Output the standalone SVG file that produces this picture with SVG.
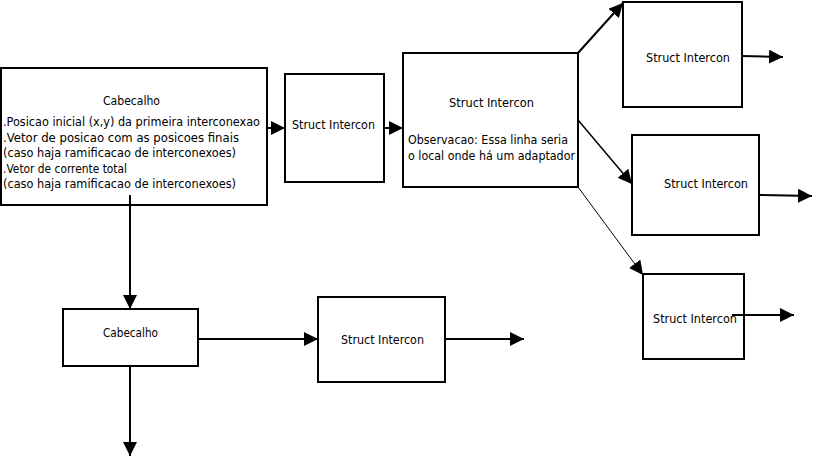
<svg xmlns="http://www.w3.org/2000/svg" width="814" height="460" viewBox="0 0 814 460">
<style>
rect.n{fill:#fff;stroke:#000;stroke-width:2}
text{font-family:"DejaVu Sans","Liberation Sans",sans-serif;font-size:12px;fill:#000}
.c line{stroke:#000;stroke-width:2}
</style>
<defs>
<marker id="ah" markerUnits="userSpaceOnUse" markerWidth="14" markerHeight="14" viewBox="0 0 12 12" refX="12" refY="6" orient="auto">
<path d="M0,0 L12,6 L0,12 Z" fill="#000"/>
</marker>
</defs>
<rect width="814" height="460" fill="#fff"/>
<g id="cabecalho1">
<rect class="n" x="1" y="68" width="266" height="137"/>
<text x="103" y="105" textLength="57" lengthAdjust="spacingAndGlyphs">Cabecalho</text>
<text x="3" y="126" textLength="257" lengthAdjust="spacingAndGlyphs">.Posicao inicial (x,y) da primeira interconexao</text>
<text x="3" y="142" textLength="236" lengthAdjust="spacingAndGlyphs">.Vetor de posicao com as posicoes finais</text>
<text x="3" y="157" textLength="233" lengthAdjust="spacingAndGlyphs">(caso haja ramificacao de interconexoes)</text>
<text x="3" y="173" textLength="124" lengthAdjust="spacingAndGlyphs">.Vetor de corrente total</text>
<text x="3" y="188" textLength="233" lengthAdjust="spacingAndGlyphs">(caso haja ramificacao de interconexoes)</text>
</g>
<g id="struct1">
<rect class="n" x="285" y="74" width="99" height="108"/>
<text x="292" y="129" textLength="83" lengthAdjust="spacingAndGlyphs">Struct Intercon</text>
</g>
<g id="struct2">
<rect class="n" x="403" y="53" width="175" height="134"/>
<text x="449" y="107" textLength="85" lengthAdjust="spacingAndGlyphs">Struct Intercon</text>
<text x="408" y="144" textLength="160" lengthAdjust="spacingAndGlyphs">Observacao: Essa linha seria</text>
<text x="408" y="160" textLength="167" lengthAdjust="spacingAndGlyphs">o local onde há um adaptador</text>
</g>
<g id="struct3">
<rect class="n" x="623" y="2" width="119" height="105"/>
<text x="646" y="62" textLength="84" lengthAdjust="spacingAndGlyphs">Struct Intercon</text>
</g>
<g id="struct4">
<rect class="n" x="632" y="135" width="127" height="100"/>
<text x="664" y="188" textLength="84" lengthAdjust="spacingAndGlyphs">Struct Intercon</text>
</g>
<g id="struct5">
<rect class="n" x="643" y="274" width="101" height="85"/>
<text x="653" y="323" textLength="84" lengthAdjust="spacingAndGlyphs">Struct Intercon</text>
</g>
<g id="cabecalho2">
<rect class="n" x="63" y="309" width="135" height="57"/>
<text x="103" y="337" textLength="55" lengthAdjust="spacingAndGlyphs">Cabecalho</text>
</g>
<g id="struct6">
<rect class="n" x="318" y="297" width="127" height="85"/>
<text x="341" y="344" textLength="83" lengthAdjust="spacingAndGlyphs">Struct Intercon</text>
</g>
<g class="c" id="connectors">
<line x1="267" y1="128" x2="285" y2="128" marker-end="url(#ah)"/>
<line x1="384" y1="128" x2="403" y2="128" marker-end="url(#ah)"/>
<line x1="578" y1="53" x2="623" y2="3" marker-end="url(#ah)"/>
<line x1="578" y1="120" x2="632" y2="184" marker-end="url(#ah)" style="stroke-width:1.5"/>
<line x1="578" y1="187" x2="643" y2="275" marker-end="url(#ah)" style="stroke-width:1"/>
<line x1="742" y1="56" x2="783" y2="57" marker-end="url(#ah)"/>
<line x1="759" y1="195" x2="812" y2="196" marker-end="url(#ah)"/>
<line x1="732" y1="315" x2="794" y2="315" marker-end="url(#ah)"/>
<line x1="130" y1="195" x2="130" y2="309" marker-end="url(#ah)"/>
<line x1="198" y1="339" x2="318" y2="339" marker-end="url(#ah)"/>
<line x1="445" y1="339" x2="524" y2="339" marker-end="url(#ah)"/>
<line x1="130" y1="366" x2="130" y2="456" marker-end="url(#ah)"/>
</g>
</svg>
